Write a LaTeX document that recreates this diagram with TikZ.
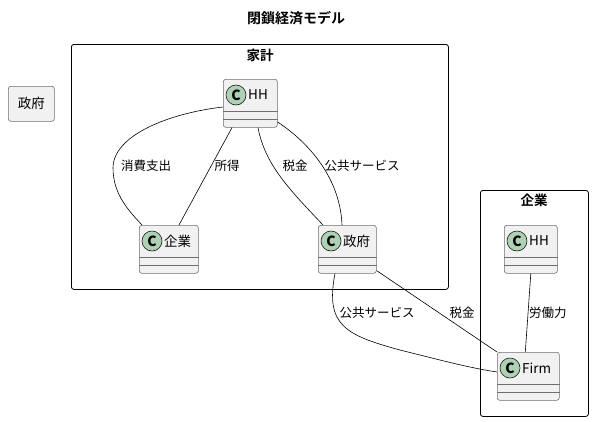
\documentclass[tikz,border=0pt]{standalone}
\usepackage{fontspec}
\setmainfont{Noto Sans CJK JP}
\newfontfamily\cjkbold{Noto Sans CJK JP Bold}
\begin{document}
\begin{tikzpicture}[x=1pt,y=-1pt,
  cls/.style={draw={rgb,255:red,110;green,110;blue,110}, fill={rgb,255:red,241;green,241;blue,241}, rounded corners=2.5pt, line width=0.6pt, inner sep=0pt},
  clsline/.style={draw={rgb,255:red,110;green,110;blue,110}, line width=0.6pt},
  cmark/.style={circle, draw={rgb,255:red,24;green,24;blue,24}, fill={rgb,255:red,173;green,209;blue,178}, minimum size=20pt, inner sep=0pt, line width=0.6pt, font=\fontsize{14}{14}\selectfont\bfseries},
  pkg/.style={draw={rgb,255:red,0;green,0;blue,0}, rounded corners=2.5pt, line width=0.8pt, inner sep=0pt},
  lbl/.style={font=\fontsize{12.5}{12.5}\selectfont, inner sep=1pt},
  cname/.style={font=\fontsize{13.5}{13.5}\selectfont, inner sep=0pt, anchor=west},
  edge/.style={draw=black, line width=0.6pt}]
\useasboundingbox (0,0) rectangle (593,421);
\newcommand\umlclass[6]{%
  \node[cls, anchor=north west, minimum width=#4pt, minimum height=#5pt] (#1) at (#2,#3) {};
  \draw[clsline] ([yshift=-32pt]#1.north west) -- ([yshift=-32pt]#1.north east);
  \draw[clsline] ([yshift=-40pt]#1.north west) -- ([yshift=-40pt]#1.north east);
  \node[cmark] (#1c) at ([xshift=13pt,yshift=-16pt]#1.north west) {C};
  \node[cname] (#1t) at ([xshift=25pt,yshift=-16pt]#1.north west) {#6};
}
% title
\node[font=\fontsize{14}{14}\selectfont\cjkbold] (title) at (296,18) {閉鎖経済モデル};
% standalone box
\node[cls, anchor=north west, minimum width=46pt, minimum height=35pt, font=\fontsize{13.5}{13.5}\selectfont] (govbox) at (8,86) {政府};
% packages
\node[pkg, anchor=north west, minimum width=377pt, minimum height=245pt] (pkghh) at (71,44) {};
\node[font=\fontsize{13.5}{13.5}\selectfont\cjkbold] (pkghhl) at (260,55) {家計};
\node[pkg, anchor=north west, minimum width=108pt, minimum height=226pt] (pkgfirm) at (480,190) {};
\node[font=\fontsize{13.5}{13.5}\selectfont\cjkbold] (pkgfirml) at (534,200) {企業};
% classes
\umlclass{hh}{223}{79}{54}{48}{HH}
\umlclass{qy}{139}{225}{59}{48}{企業}
\umlclass{gov}{318}{225}{58}{48}{政府}
\umlclass{hhb}{504}{225}{53}{48}{HH}
\umlclass{firm}{497}{352}{62}{48}{Firm}
% edges
\draw[edge] ([yshift=-28pt]hh.north west) .. controls (170,113) and (113,135) .. (113,168)
  .. controls (113,195) and (130,212) .. ([xshift=3pt]qy.north west);
\node[lbl] (l1) at (146,166) {消費支出};
\draw[edge] ([xshift=9pt]hh.south west) -- ([xshift=40pt]qy.north west);
\node[lbl] (l2) at (227,166) {所得};
\draw[edge] ([xshift=35pt]hh.south west) .. controls (265,165) and (290,190) .. ([xshift=5pt]gov.north west);
\node[lbl] (l3) at (295,166) {税金};
\draw[edge] ([yshift=-43pt]hh.north east) .. controls (305,140) and (340,175) .. ([xshift=24pt]gov.north west);
\node[lbl] (l4) at (362,166) {公共サービス};
\draw[edge] ([xshift=17pt]gov.south west) .. controls (325,325) and (345,335) .. (400,350)
  .. controls (440,360) and (470,368) .. ([yshift=-20pt]firm.north west);
\node[lbl] (l5) at (377,313) {公共サービス};
\draw[edge] ([yshift=3pt]gov.south east) -- (firm.north west);
\node[lbl] (l6) at (462,313) {税金};
\draw[edge] (hhb.south) -- ([xshift=-3pt]firm.north);
\node[lbl, anchor=west] (l7) at (528,313) {労働力};
\end{tikzpicture}
\end{document}
